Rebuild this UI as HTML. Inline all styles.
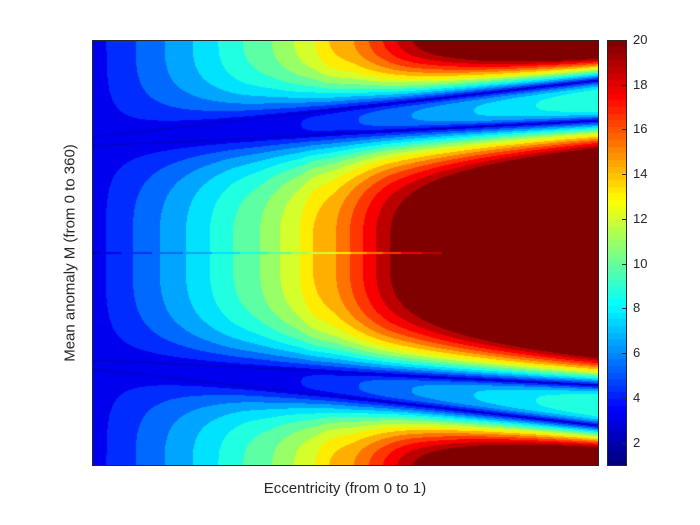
<!DOCTYPE html>
<html><head><meta charset="utf-8">
<style>
html,body{margin:0;padding:0;background:#fff;}
#wrap{position:relative;width:700px;height:525px;font-family:"Liberation Sans",sans-serif;color:#262626;}
canvas{position:absolute;}
.lbl{position:absolute;font-size:15px;white-space:nowrap;}
.tk{position:absolute;font-size:13px;left:633px;}
</style></head><body>
<div id="wrap">
<canvas id="plot" width="506" height="425" style="left:92px;top:40px"></canvas>
<div style="position:absolute;left:92px;top:40px;width:505px;height:424px;border:1px solid #262626;"></div>
<canvas id="cbar" width="19" height="425" style="left:607px;top:40px"></canvas>
<div style="position:absolute;left:607px;top:40px;width:18px;height:424px;border:1px solid #262626;"></div>
<div class="lbl" style="left:0;width:690px;text-align:center;top:480px">Eccentricity (from 0 to 1)</div>
<div class="lbl" style="left:70px;top:253px;transform:translate(-50%,-50%) rotate(-90deg)">Mean anomaly M (from 0 to 360)</div>
<div id="ticks"></div>
</div>
<script>
// center-line profile of the field vs pixel distance along eccentricity axis
const profileX = [0,3,13,40,67,93,117,140,167,187,207,220,243,257,270,283,297,506];
const profileV = [2,2.6,3.8,5,6.2,7.4,8.6,9.8,11,12.2,13.4,14.6,15.8,17,18.2,19.4,20.6,35];
const levelStep = 1.2;
const levelBase = 2.6;
const cbarTicks = [2,4,6,8,10,12,14,16,18,20];
const cmin = 1, cmax = 21.2;

function jet(t){t=Math.max(0,Math.min(1,t));
  const c=x=>Math.max(0,Math.min(1,x));
  return [c(1.5-Math.abs(4*t-3)),c(1.5-Math.abs(4*t-2)),c(1.5-Math.abs(4*t-1))].map(v=>Math.round(v*255));}
function Fc(X){
  for(let i=1;i<profileX.length;i++){ if(X<=profileX[i]){const a=(X-profileX[i-1])/(profileX[i]-profileX[i-1]);return profileV[i-1]+a*(profileV[i]-profileV[i-1]);} }
  return profileV[profileV.length-1];
}
const FLOOR=2.9;
function shape(F,f){F=Math.max(F,FLOOR);return FLOOR+(F-FLOOR)*Math.max(0,f);}
function field(X,y){
  let yy=y; if(yy>212.5) yy=425-yy;
  const top=97-57*X/506, mainB=105-25*X/506;
  const center=212.5;
  let v;
  if(yy>=mainB){
    const w=center-mainB, q=Math.min(1,(center-yy)/w);
    v=shape(Fc(X),1-Math.pow(q,3.5));
    const d=Math.abs(y-212.5);
    if(X<380 && d<0.8) v*=0.85;
    if(Math.abs(yy-mainB)<1.0) v=Math.min(v,2.3);
    return v;
  }
  if(yy<=top){
    const q=Math.min(1,(yy+3)/(top+3));
    const n=3.5-2.2*X/506;
    v=shape(Fc(X*0.93),1-Math.pow(q,n));
    if(Math.abs(yy-top)<1.0) v=Math.min(v,2.3);
    return v;
  }
  const g=(yy-top)/(mainB-top), q=2*g-1;
  return shape(0.28*Fc(X),1-Math.pow(Math.abs(q),3));
}
function bandColor(v){
  const k=Math.floor((v-levelBase)/levelStep);
  const mid=levelBase+levelStep*(k+0.5);
  return jet((mid-cmin)/(cmax-cmin));
}
const pc=document.getElementById('plot'),ctx=pc.getContext('2d');
const img=ctx.createImageData(506,425);
for(let y=0;y<425;y++)for(let x=0;x<506;x++){
  const c=bandColor(field(x,y));const i=(y*506+x)*4;
  img.data[i]=c[0];img.data[i+1]=c[1];img.data[i+2]=c[2];img.data[i+3]=255;}
ctx.putImageData(img,0,0);
const cb=document.getElementById('cbar').getContext('2d');
for(let y=0;y<425;y++){const t=Math.floor((1-y/425)*64)/63;const c=jet(Math.min(1,t));
  cb.fillStyle=`rgb(${c[0]},${c[1]},${c[2]})`;cb.fillRect(0,y,19,1);}
const tk=document.getElementById('ticks');
cbarTicks.forEach(v=>{
  const yp=465-(v-1)/19*425;
  const d=document.createElement('div');d.className='tk';d.style.top=(yp-8)+'px';d.textContent=v;
  
  
  tk.appendChild(d);
  const m=document.createElement('div');m.style.cssText=`position:absolute;left:622px;top:${yp}px;width:4px;height:1px;background:#262626`;
  
  
  tk.appendChild(m);
});
</script>
</body></html>
